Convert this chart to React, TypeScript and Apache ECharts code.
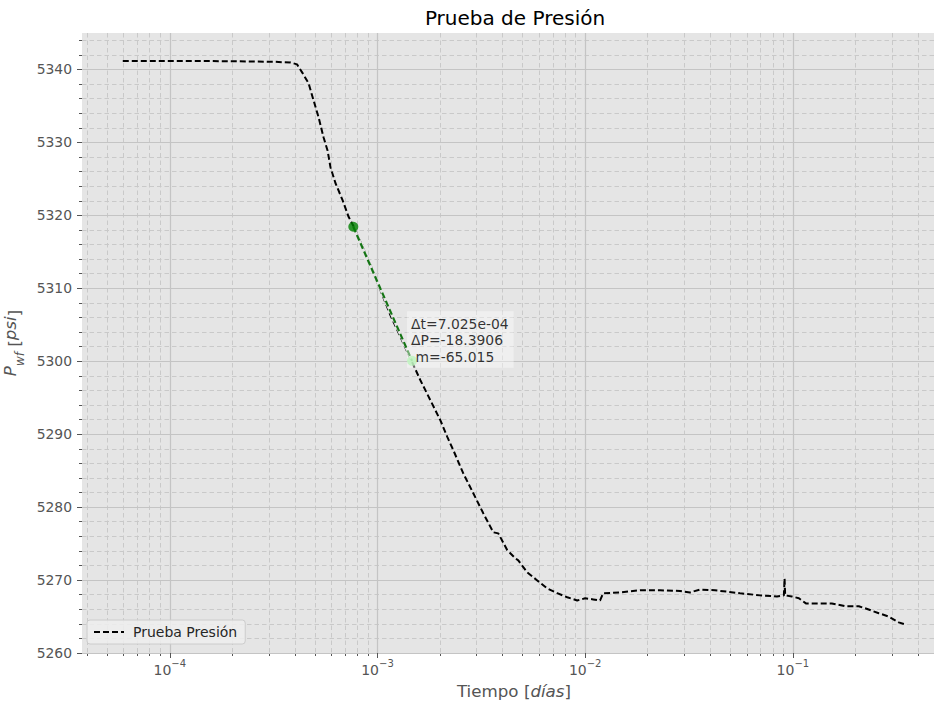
import React, { useEffect, useRef } from 'react';
import * as echarts from 'echarts';

// ---- data ----
const timeDays = [
  5.94e-5, 1.0e-4, 1.6e-4, 2.4e-4, 3.2e-4, 3.82e-4, 4.1e-4, 4.36e-4, 4.66e-4, 4.92e-4,
  5.2e-4, 5.5e-4, 5.75e-4, 5.94e-4, 6.28e-4, 6.79e-4, 7.26e-4, 7.67e-4, 9.25e-4, 1.155e-3,
  1.456e-3, 1.609e-3, 1.798e-3, 2.009e-3, 2.171e-3, 2.319e-3, 2.592e-3, 2.893e-3, 3.232e-3, 3.612e-3,
  3.817e-3, 4.217e-3, 4.608e-3, 4.763e-3, 5.262e-3, 5.877e-3, 6.567e-3, 7.336e-3, 8.195e-3, 9.153e-3,
  1.0e-2, 1.093e-2, 1.18e-2, 1.22e-2, 1.474e-2, 1.838e-2, 2.294e-2, 2.862e-2, 3.197e-2, 3.571e-2,
  4.217e-2, 5.563e-2, 6.94e-2, 8.378e-2, 9.05e-2, 9.12e-2, 9.18e-2, 9.89e-2, 0.1069, 0.1155,
  0.1334, 0.154, 0.1798, 0.2076, 0.2244, 0.2592, 0.2893, 0.3232, 0.3494,
];
const pressurePsi = [
  5341.15, 5341.15, 5341.15, 5341.1, 5341.05, 5340.95, 5340.7, 5339.5, 5338.1, 5335.8,
  5333.5, 5330.7, 5328.9, 5326.6, 5324.4, 5322.1, 5319.8, 5318.5, 5313.2, 5306.3,
  5300.1, 5297.4, 5294.65, 5291.9, 5289.6, 5287.8, 5284.6, 5281.9, 5279.15, 5276.55,
  5276.4, 5274.1, 5273.0, 5272.7, 5271.05, 5269.95, 5268.85, 5268.2, 5267.65, 5267.2,
  5267.5, 5267.35, 5267.2, 5268.2, 5268.3, 5268.6, 5268.6, 5268.5, 5268.3, 5268.7,
  5268.6, 5268.2, 5267.9, 5267.75, 5267.9, 5270.2, 5267.9, 5267.75, 5267.5, 5266.8,
  5266.8, 5266.8, 5266.4, 5266.4, 5266.1, 5265.45, 5265.0, 5264.2, 5263.9,
];
const seriesName = 'Prueba Presión';
const slopeTimes = [7.65e-4, 1.4675e-3];
const slopePressures = [5318.44, 5300.05];
const annotationLines = ['Δt=7.025e-04', 'ΔP=-18.3906', ' m=-65.015'];
const xMajorTicks = [1e-4, 1e-3, 1e-2, 1e-1];
const yMajorTicks = [5260, 5270, 5280, 5290, 5300, 5310, 5320, 5330, 5340];
const xRange = [3.78e-5, 0.546];
const yRange = [5260, 5345];
const titleText = 'Prueba de Presión';

const FONT = 'DejaVu Sans';

const xMinorTicks: number[] = [];
for (let e = -5; e <= 0; e++) {
  for (let m = 2; m <= 9; m++) {
    const v = Number((m * Math.pow(10, e)).toPrecision(6));
    if (v >= xRange[0] && v <= xRange[1]) xMinorTicks.push(v);
  }
}
const yMinorTicks: number[] = [];
for (let v = yRange[0]; v <= yRange[1]; v += 2) {
  if (v % 10 !== 0) yMinorTicks.push(v);
}

const supLabel = (v: number) => {
  const e = Math.round(Math.log10(v));
  return `{b|10}{s|${e < 0 ? '−' : ''}${Math.abs(e)}}`;
};

export default function App() {
  const ref = useRef<HTMLDivElement>(null);
  useEffect(() => {
    if (!ref.current) return;
    const chart = echarts.init(ref.current, null, { renderer: 'svg' });
    const mainData = timeDays.map((t, i) => [t, pressurePsi[i]]);
    const slopeData = slopeTimes.map((t, i) => [t, slopePressures[i]]);
    const tickColor = '#555555';
    chart.setOption({
      animation: false,
      backgroundColor: '#ffffff',
      textStyle: { fontFamily: FONT },
      title: {
        text: titleText,
        left: 510,
        textAlign: 'center',
        top: 3,
        textStyle: { fontFamily: FONT, fontSize: 20, fontWeight: 'normal', color: '#000000' },
      },
      grid: {
        left: 82,
        right: -12,
        top: 33,
        bottom: 55,
        show: true,
        backgroundColor: '#e5e5e5',
        borderWidth: 0,
        containLabel: false,
        outerBoundsMode: 'none',
      },
      legend: {
        data: [seriesName],
        left: 87,
        top: 620,
        itemWidth: 30,
        itemHeight: 14,
        itemStyle: { opacity: 0 },
        lineStyle: { type: [6, 3], width: 2 },
        backgroundColor: 'rgba(238,238,238,0.85)',
        borderColor: '#cccccc',
        borderWidth: 1,
        borderRadius: 3,
        padding: [5, 8, 5, 6],
        textStyle: { fontFamily: FONT, fontSize: 14, color: '#262626', padding: [0, 0, 0, 4] },
      },
      xAxis: [
        {
          type: 'log',
          logBase: 10,
          min: xRange[0],
          max: xRange[1],
          position: 'bottom',
          axisLine: { show: false },
          axisTick: { show: true, length: 5, lineStyle: { color: tickColor }, customValues: xMajorTicks },
          axisLabel: {
            show: true,
            margin: 5,
            customValues: xMajorTicks,
            formatter: (v: number) => supLabel(v),
            rich: {
              b: { fontFamily: FONT, fontSize: 14, color: tickColor, verticalAlign: 'bottom', lineHeight: 19 },
              s: { fontFamily: FONT, fontSize: 10, color: tickColor, verticalAlign: 'top', lineHeight: 19 },
            },
          },
          splitLine: { show: true, lineStyle: { color: '#c4c4c4', width: 1.2, type: 'solid' } },
          name: 'Tiempo [{i|días}]',
          nameLocation: 'middle',
          nameGap: 29,
          nameTextStyle: {
            fontFamily: FONT,
            fontSize: 16.7,
            color: tickColor,
            rich: { i: { fontFamily: FONT, fontSize: 16.7, color: tickColor, fontStyle: 'italic' } },
          },
          z: 1,
        },
        {
          type: 'log',
          logBase: 10,
          min: xRange[0],
          max: xRange[1],
          position: 'bottom',
          axisLine: { show: false },
          axisTick: { show: true, length: 3, lineStyle: { color: tickColor }, customValues: xMinorTicks },
          axisLabel: { show: false },
          splitLine: { show: true, lineStyle: { color: '#c9c9c9', width: 1, type: [4.5, 3] } },
          z: 0,
        },
      ],
      yAxis: [
        {
          type: 'value',
          min: yRange[0],
          max: yRange[1],
          position: 'left',
          axisLine: { show: false },
          axisTick: { show: true, length: 5, lineStyle: { color: tickColor }, customValues: yMajorTicks },
          axisLabel: {
            show: true,
            margin: 10,
            customValues: yMajorTicks,
            formatter: (v: number) => String(v),
            color: tickColor,
            fontFamily: FONT,
            fontSize: 13.9,
          },
          splitLine: { show: true, lineStyle: { color: '#c4c4c4', width: 1.2, type: 'solid' } },
          name: '{i|P}{sub|wf} [{i|psi}]',
          nameLocation: 'middle',
          nameRotate: 90,
          nameGap: 40,
          nameTextStyle: {
            fontFamily: FONT,
            fontSize: 16.7,
            color: tickColor,
            rich: {
              i: { fontFamily: FONT, fontSize: 16.7, color: tickColor, fontStyle: 'italic', verticalAlign: 'top', lineHeight: 24 },
              sub: { fontFamily: FONT, fontSize: 12, color: tickColor, fontStyle: 'italic', verticalAlign: 'bottom', lineHeight: 24 },
            },
          },
          z: 1,
        },
        {
          type: 'value',
          min: yRange[0],
          max: yRange[1],
          position: 'left',
          axisLine: { show: false },
          axisTick: { show: true, length: 3, lineStyle: { color: tickColor }, customValues: yMinorTicks },
          axisLabel: { show: false },
          splitLine: { show: true, lineStyle: { color: '#c9c9c9', width: 1, type: [4.5, 3] } },
          z: 0,
        },
      ],
      series: [
        {
          name: seriesName,
          type: 'line',
          xAxisIndex: 0,
          yAxisIndex: 0,
          data: mainData,
          symbol: 'none',
          showSymbol: false,
          lineStyle: { color: '#000000', width: 2, type: [6, 3] },
          itemStyle: { color: '#000000' },
          z: 3,
        },
        {
          name: 'fondo',
          type: 'line',
          xAxisIndex: 0,
          yAxisIndex: 0,
          data: slopeData,
          symbol: 'none',
          showSymbol: false,
          lineStyle: { color: '#e5e5e5', width: 3, type: 'solid' },
          z: 4,
        },
        {
          name: 'pendiente',
          type: 'line',
          xAxisIndex: 0,
          yAxisIndex: 0,
          data: slopeData,
          symbol: 'none',
          showSymbol: false,
          lineStyle: { color: '#157515', width: 2.2, type: [6, 3] },
          z: 5,
        },
        {
          name: 'p1',
          type: 'scatter',
          xAxisIndex: 0,
          yAxisIndex: 0,
          data: [slopeData[0]],
          symbolSize: 10,
          itemStyle: { color: '#008000' },
          z: 6,
        },
        {
          name: 'p2',
          type: 'scatter',
          xAxisIndex: 0,
          yAxisIndex: 0,
          data: [slopeData[1]],
          symbolSize: 10,
          itemStyle: { color: '#90ee90' },
          z: 6,
          label: {
            show: true,
            position: [0, 12],
            align: 'left',
            verticalAlign: 'bottom',
            formatter: annotationLines.join('\n'),
            fontFamily: FONT,
            fontSize: 13.9,
            lineHeight: 16.5,
            color: '#000000',
            backgroundColor: 'rgba(255,255,255,0.5)',
            padding: [4, 5, 3, 4],
          },
        },
      ],
    });
    return () => chart.dispose();
  }, []);
  return (
    <div
      ref={ref}
      style={{ position: 'fixed', left: 0, top: 0, width: 934, height: 708 }}
    />
  );
}
